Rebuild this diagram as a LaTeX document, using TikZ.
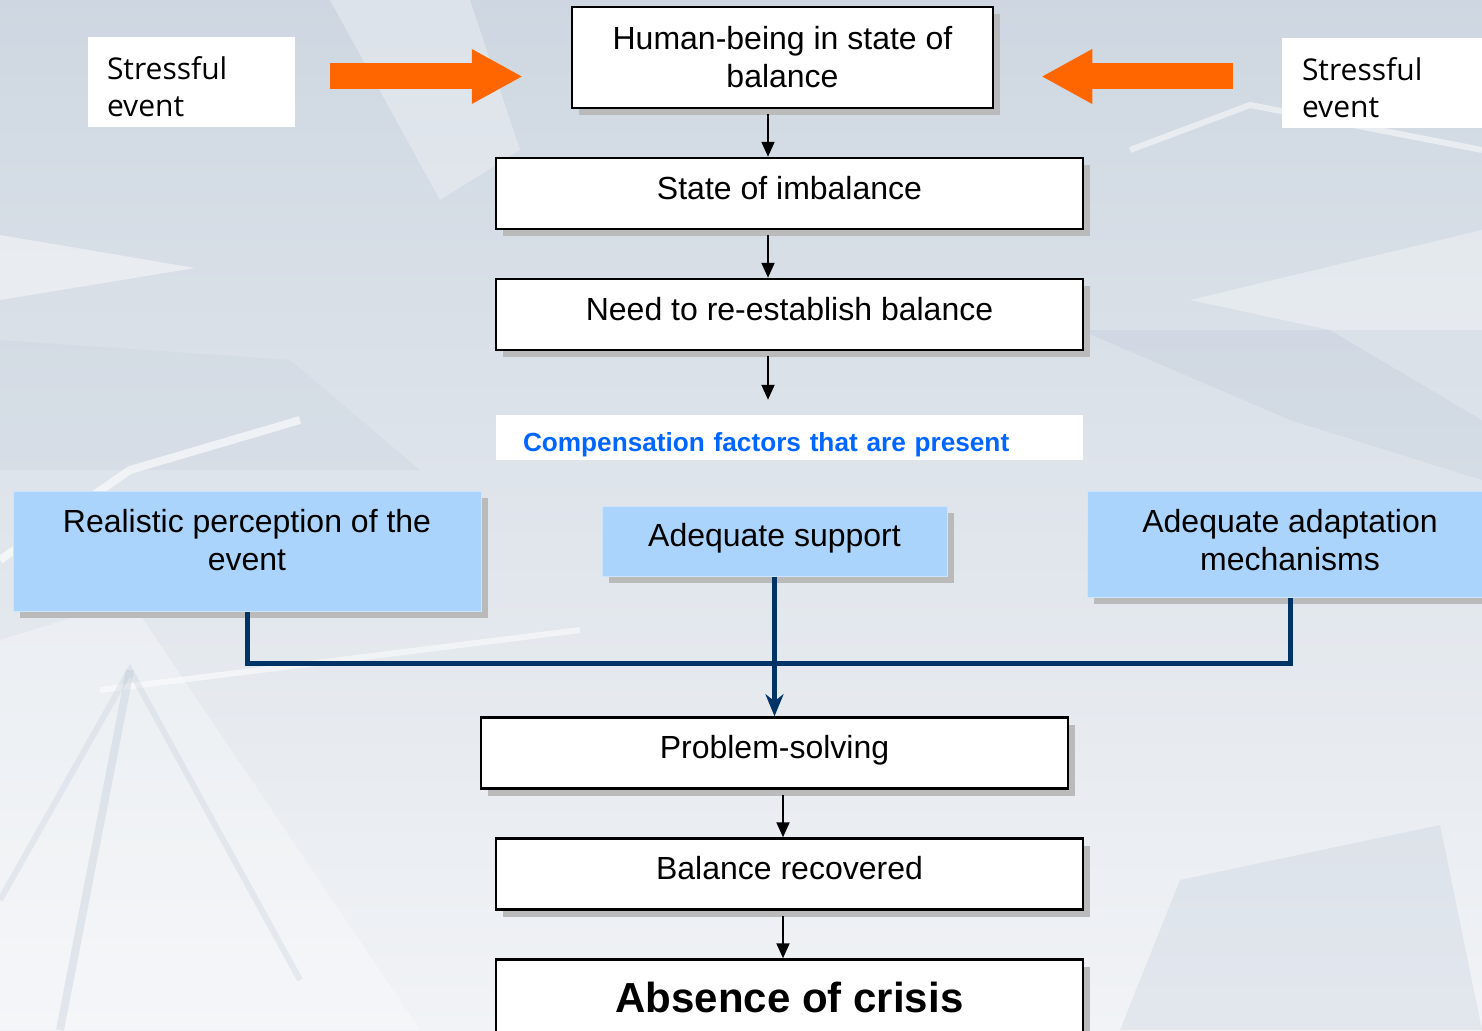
\documentclass[tikz,border=0pt]{standalone}
\usepackage{fontspec}
\setmainfont{Liberation Sans}
\newfontfamily\stressfont{Open Sans}
\usetikzlibrary{positioning,shadows,arrows.meta}

\definecolor{bgtop}{RGB}{206,215,225}
\definecolor{bgbottom}{RGB}{241,243,246}
\definecolor{icedark}{RGB}{170,185,205}
\definecolor{stressorange}{RGB}{255,102,0}
\definecolor{factorblue}{RGB}{170,212,252}
\definecolor{linknavy}{RGB}{0,51,102}
\definecolor{compblue}{RGB}{0,102,255}

\tikzset{
  stepfont/.style={font=\fontsize{32}{38}\selectfont},
  oneline/.style={text height=22pt, text depth=11pt},
  boxshadow/.style={drop shadow={shadow xshift=7pt, shadow yshift=-7pt, opacity=1, fill=black!27}},
  stage/.style={draw, line width=2.5pt, fill=white, stepfont, align=center, inner sep=0pt,
    minimum width=587pt, minimum height=71pt, boxshadow},
  factor/.style={fill=factorblue, draw=factorblue!60!white, line width=1pt, inner sep=0pt, boxshadow},
  factortext/.style={stepfont, align=center},
  stressbox/.style={fill=white, align=left, text width=169pt, inner xsep=19pt, inner ysep=0pt,
    minimum height=90pt, text depth=27pt, font=\stressfont\fontsize{30}{37}\selectfont},
  compbox/.style={fill=white, text=compblue, align=left, text width=533pt, inner xsep=27pt,
    inner ysep=0pt, minimum height=45pt, text height=29pt, text depth=0pt,
    font=\bfseries\fontsize{26.2}{32}\selectfont},
  flow/.style={line width=2pt, -{Triangle[length=15pt,width=13pt]}, shorten <=5pt},
  push/.style={line width=26pt, stressorange, -{Triangle[length=51pt,width=51pt]}},
  merge/.style={line width=5pt, linknavy},
}

\begin{document}
\begin{tikzpicture}[x=1pt, y=-1pt]
 \useasboundingbox (0,0) rectangle (1482,1030);
 \clip (0,0) rectangle (1482,1030);
 % icy background
 \shade[top color=bgtop, bottom color=bgbottom] (0,0) rectangle (1482,1030);
 \fill[white, opacity=0.45] (0,235) -- (195,268) -- (0,300) -- cycle;
 \fill[white, opacity=0.3] (0,640) -- (130,600) -- (420,1030) -- (0,1030) -- cycle;
 \fill[white, opacity=0.35] (1190,300) -- (1482,230) -- (1482,420) -- (1330,330) -- cycle;
 \fill[white, opacity=0.3] (330,0) -- (470,0) -- (520,150) -- (440,200) -- cycle;
 \fill[icedark, opacity=0.18] (1080,330) -- (1290,420) -- (1482,480) -- (1482,330) -- cycle;
 \fill[icedark, opacity=0.2] (1180,880) -- (1440,825) -- (1482,1030) -- (1120,1030) -- cycle;
 \fill[icedark, opacity=0.12] (0,340) -- (290,360) -- (420,470) -- (0,470) -- cycle;
 \draw[white, opacity=0.6, line width=8pt] (0,560) -- (130,470) -- (300,420);
 \draw[white, opacity=0.5, line width=6pt] (100,690) -- (580,630);
 \draw[white, opacity=0.5, line width=6pt] (1130,150) -- (1250,105) -- (1482,150);
 \draw[icedark, opacity=0.25, line width=8pt] (130,670) -- (60,1030);
 \draw[icedark, opacity=0.2, line width=6pt] (0,900) -- (130,670) -- (300,980);

 % main chain
 \node[stage, minimum width=421pt, minimum height=101pt] (human) at (782.5,57.5) {Human-being in state of\\balance};
 \node[stage, oneline] (imbalance) at (789.5,193.5) {State of imbalance};
 \node[stage, oneline, below=47.5pt of imbalance] (need) {Need to re-establish balance};
 \node[compbox, below=63.5pt of need] (comp) {Compensation factors that are present};

 % stressors
 \node[stressbox] (stressL) at (191.5,82) {Stressful\\event};
 \node[stressbox, text width=160pt, inner xsep=20pt] (stressR) at (1382,83) {Stressful\\event};

 % compensation factors
 \node[factor, minimum width=468pt, minimum height=120pt] (realistic) at (247,551) {};
 \node[factortext] (realistic-text) at (247,540) {Realistic perception of the\\event};
 \node[factor, factortext, oneline, minimum width=345pt, minimum height=70pt] (support) at (774.5,541) {Adequate support};
 \node[factor, minimum width=406pt, minimum height=106pt] (adaptation) at (1290,544) {};
 \node[factortext] (adaptation-text) at (1290,540) {Adequate adaptation\\mechanisms};

 % outcome
 \node[stage, oneline] (problem) at (774.5,753) {Problem-solving};
 \node[stage, oneline] (balance) at (789.5,874) {Balance recovered};
 \node[stage, below=47.5pt of balance, minimum height=84pt, text height=30pt, text depth=8pt,
   font=\bfseries\fontsize{42}{50}\selectfont] (absence) {Absence of crisis};

 \coordinate (upper) at (768,0);
 \coordinate (lower) at (783,0);
 \coordinate (pushrow) at (0,76.5);
 \coordinate (junction) at (774.5,663);

 \draw[flow] (human.south -| upper) -- (imbalance.north -| upper);
 \draw[flow] (imbalance.south -| upper) -- (need.north -| upper);
 \draw[flow, shorten >=15pt] (need.south -| upper) -- (comp.north -| upper);
 \draw[flow] (problem.south -| lower) -- (balance.north -| lower);
 \draw[flow] (balance.south -| lower) -- (absence.north -| lower);

 \draw[push, shorten <=35pt, shorten >=48pt] (stressL.east |- pushrow) -- (human.west |- pushrow);
 \draw[push, shorten <=49pt, shorten >=47pt] (stressR.west |- pushrow) -- (human.east |- pushrow);

 \draw[merge] (realistic.south) |- (junction) -| (adaptation.south);
 \draw[merge, -{Stealth[length=22pt,width=18pt,inset=7pt]}] (support.south) -- (problem.north);
\end{tikzpicture}
\end{document}
